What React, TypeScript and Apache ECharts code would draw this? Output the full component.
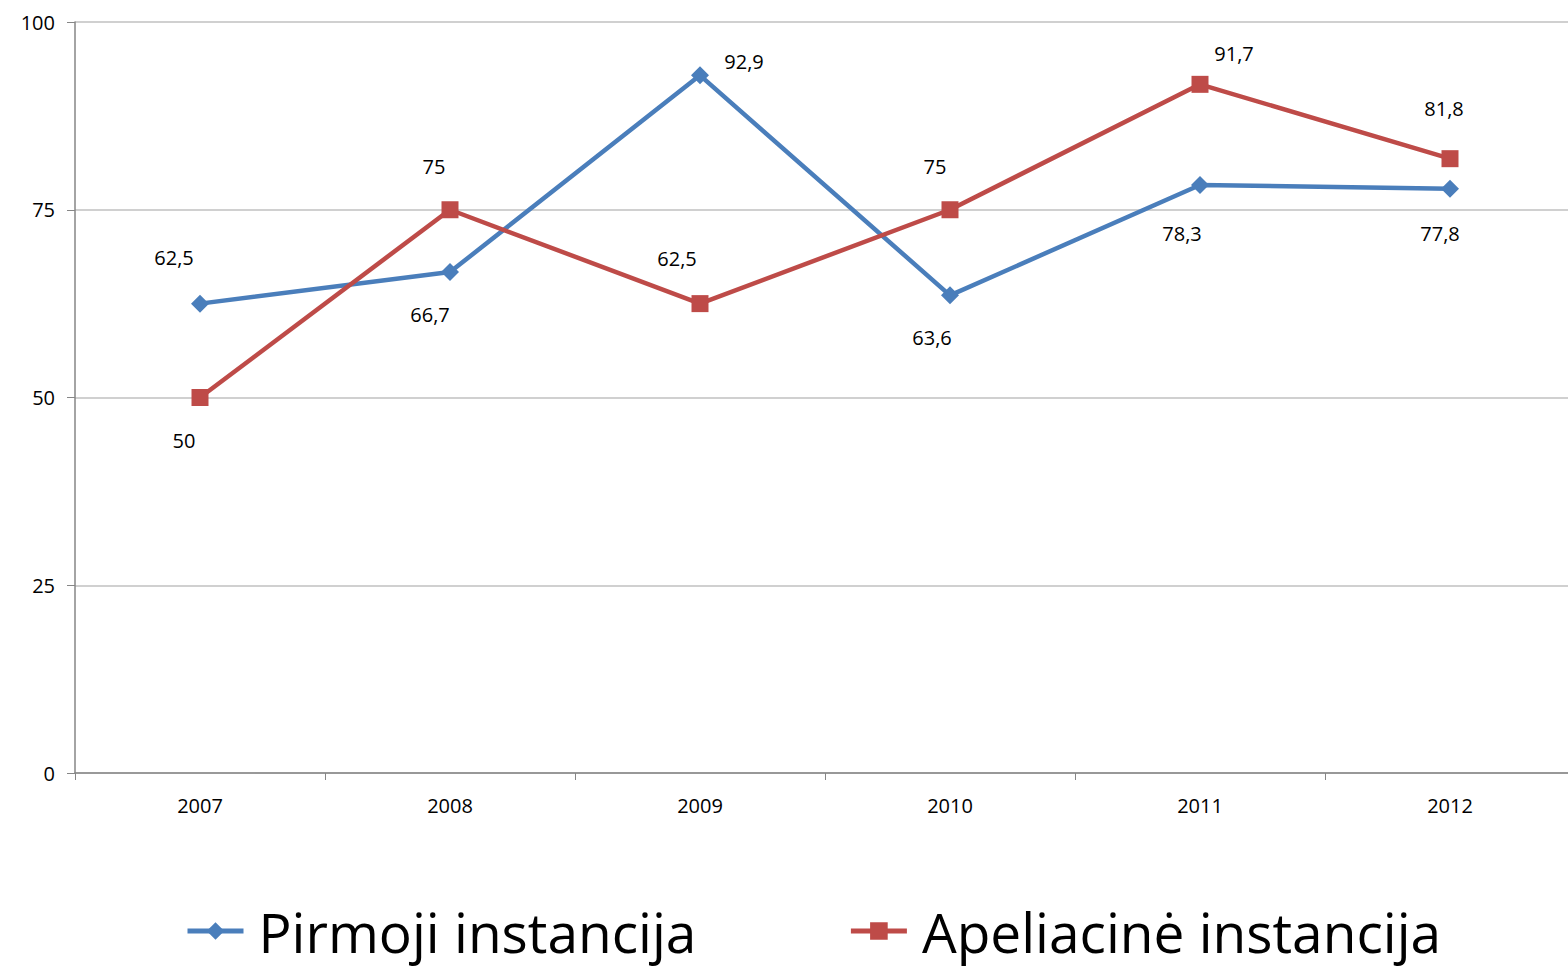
import React, { useEffect, useRef } from "react";
import * as echarts from "echarts";

const categories = ["2007", "2008", "2009", "2010", "2011", "2012"];
const pirmoji = [62.5, 66.7, 92.9, 63.6, 78.3, 77.8];
const apeliacine = [50, 75, 62.5, 75, 91.7, 81.8];
const yTicks = { min: 0, max: 100, interval: 25 };

// label offsets (styling only)
const pirmojiLabelOffsets = [[-26, -46], [-20, 42], [44, -14], [-18, 42], [-18, 49], [-10, 45]];
const apeliacineLabelOffsets = [[-16, 43], [-16, -43], [-23, -45], [-15, -43], [34, -31], [-6, -50]];

const FONT = "'Open Sans', 'Noto Sans', sans-serif";
const fmt = (v: number) => String(v).replace(".", ",");

export default function App() {
  const ref = useRef<HTMLDivElement>(null);
  useEffect(() => {
    const chart = echarts.init(ref.current!, null, { renderer: "svg" });
    const mk = (vals: number[], offs: number[][]) =>
      vals.map((v, i) => ({
        value: v,
        label: {
          show: true,
          position: "inside",
          offset: offs[i],
          formatter: fmt(v),
          color: "#000",
          fontSize: 20,
          fontFamily: FONT,
        },
      }));
    chart.setOption({
      animation: false,
      textStyle: { fontFamily: FONT },
      grid: { left: 75, width: 1500, top: 22, bottom: 193, containLabel: false, outerBoundsMode: "none" },
      legend: {
        top: 896,
        left: 180,
        itemWidth: 56,
        itemHeight: 22,
        itemGap: 152,
        lineStyle: { width: 5 },
        textStyle: { fontSize: 55, lineHeight: 60, color: "#000", fontFamily: FONT, padding: [0, 0, 0, 10] },
        data: ["Pirmoji instancija", "Apeliacinė instancija"],
      },
      xAxis: {
        type: "category",
        data: categories,
        boundaryGap: true,
        axisLine: { lineStyle: { color: "#868686", width: 1.5 } },
        axisTick: { show: true, length: 7, lineStyle: { color: "#868686" } },
        axisLabel: { fontSize: 20, color: "#000", margin: 22, fontFamily: FONT },
      },
      yAxis: {
        type: "value",
        min: yTicks.min,
        max: yTicks.max,
        interval: yTicks.interval,
        axisLine: { show: true, lineStyle: { color: "#868686", width: 1.5 } },
        axisTick: { show: true, length: 8, lineStyle: { color: "#868686" } },
        axisLabel: { fontSize: 20, color: "#000", margin: 20, fontFamily: FONT },
        splitLine: { lineStyle: { color: "#c0c0c0", width: 1.5 } },
      },
      series: [
        {
          name: "Pirmoji instancija",
          type: "line",
          data: mk(pirmoji, pirmojiLabelOffsets),
          color: "#4A7EBB",
          lineStyle: { width: 4.5, color: "#4A7EBB" },
          symbol: "diamond",
          symbolSize: 18,
          itemStyle: { color: "#4A7EBB" },
        },
        {
          name: "Apeliacinė instancija",
          type: "line",
          data: mk(apeliacine, apeliacineLabelOffsets),
          color: "#BE4B48",
          lineStyle: { width: 4.5, color: "#BE4B48" },
          symbol: "rect",
          symbolSize: 17,
          itemStyle: { color: "#BE4B48" },
        },
      ],
    });
    return () => chart.dispose();
  }, []);
  return (
    <div
      ref={ref}
      style={{ position: "fixed", left: 0, top: 0, width: 1568, height: 966, background: "#fff" }}
    />
  );
}
